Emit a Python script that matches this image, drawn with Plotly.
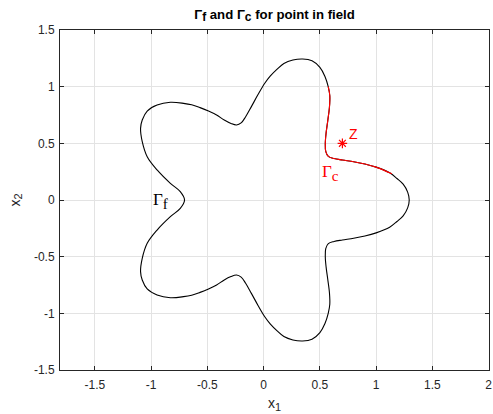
import plotly.graph_objects as go

# Boundary curve Gamma_f, counterclockwise from right tip
curve_x = [1.294, 1.28, 1.24, 1.185, 1.12, 1.0, 0.9, 0.8, 0.7, 0.626, 0.575, 0.552, 0.548, 0.555, 0.57,
           0.585, 0.588, 0.574, 0.545, 0.5, 0.43, 0.347, 0.26, 0.18, 0.12, 0.06, 0.01, -0.05, -0.109,
           -0.16, -0.2, -0.241, -0.29, -0.35, -0.418, -0.49, -0.565, -0.64, -0.712, -0.829, -0.947,
           -1.035, -1.079, -1.094, -1.079, -1.035, -0.947, -0.829, -0.741, -0.703,
           -0.741, -0.829, -0.947, -1.035, -1.079, -1.094, -1.079, -1.035, -0.947, -0.829, -0.712,
           -0.64, -0.565, -0.49, -0.418, -0.35, -0.29, -0.241, -0.2, -0.16, -0.109, -0.05, 0.01,
           0.06, 0.12, 0.18, 0.26, 0.347, 0.43, 0.5, 0.545, 0.574, 0.588, 0.585, 0.57, 0.555, 0.548,
           0.552, 0.575, 0.626, 0.7, 0.8, 0.9, 1.0, 1.12, 1.185, 1.24, 1.28, 1.294]
curve_y = [0.0, 0.07, 0.14, 0.19, 0.24, 0.29, 0.318, 0.338, 0.353, 0.366, 0.385, 0.43, 0.5, 0.59, 0.7,
           0.82, 0.92, 1.0, 1.09, 1.17, 1.228, 1.244, 1.235, 1.205, 1.155, 1.095, 1.03, 0.93, 0.824,
           0.735, 0.68, 0.662, 0.675, 0.705, 0.75, 0.785, 0.815, 0.84, 0.853, 0.862, 0.838,
           0.785, 0.706, 0.632, 0.515, 0.382, 0.265, 0.147, 0.074, 0.0,
           -0.074, -0.147, -0.265, -0.382, -0.515, -0.632, -0.706, -0.785, -0.838, -0.862, -0.853,
           -0.84, -0.815, -0.785, -0.75, -0.705, -0.675, -0.662, -0.68, -0.735, -0.824, -0.93, -1.03,
           -1.095, -1.155, -1.205, -1.235, -1.244, -1.228, -1.17, -1.09, -1.0, -0.92, -0.82, -0.7,
           -0.59, -0.5, -0.43, -0.385, -0.366, -0.353, -0.338, -0.318, -0.29, -0.24, -0.19, -0.14,
           -0.07, 0.0]

# Gamma_c portion (red)
gc_x = [0.574, 0.588, 0.585, 0.57, 0.555, 0.548, 0.552, 0.575, 0.626, 0.7, 0.8, 0.9, 1.0, 1.12, 1.14]
gc_y = [1.0, 0.92, 0.82, 0.7, 0.59, 0.5, 0.43, 0.385, 0.366, 0.353, 0.338, 0.318, 0.29, 0.24, 0.232]

# Field point z
z_x = [0.7]
z_y = [0.5]

x_ticks = [-1.5, -1, -0.5, 0, 0.5, 1, 1.5, 2]
x_tick_text = ["-1.5", "-1", "-0.5", "0", "0.5", "1", "1.5", "2"]
y_ticks = [-1.5, -1, -0.5, 0, 0.5, 1, 1.5]
y_tick_text = ["-1.5", "-1", "-0.5", "0", "0.5", "1", "1.5"]

AX = "#262626"
GRID = "#e3e3e3"
SANS = "Liberation Sans, Arial, sans-serif"
SERIF = "Liberation Serif, DejaVu Serif, serif"

fig = go.Figure()
fig.add_trace(go.Scatter(x=curve_x, y=curve_y, mode="lines",
                         line=dict(color="black", width=1.1, shape="spline", smoothing=1.0),
                         hoverinfo="skip", showlegend=False))
fig.add_trace(go.Scatter(x=gc_x, y=gc_y, mode="lines",
                         line=dict(color="#ff0000", width=1.1, shape="spline", smoothing=1.0),
                         hoverinfo="skip", showlegend=False))
fig.add_trace(go.Scatter(x=z_x, y=z_y, mode="markers",
                         marker=dict(symbol="asterisk-open", size=8, color="#ff0000",
                                     line=dict(color="#ff0000", width=1.2)),
                         hoverinfo="skip", showlegend=False))

fig.add_annotation(x=0.745, y=0.585, text="Z", showarrow=False, xanchor="left", yanchor="middle",
                   font=dict(family=SANS, size=14, color="#ff0000"))
fig.add_annotation(x=0.505, y=0.24, text="Γ<sub><span style='font-size:15px'>c</span></sub>",
                   showarrow=False, xanchor="left", yanchor="middle",
                   font=dict(family=SERIF, size=17, color="#ff0000"))
fig.add_annotation(x=-1.0, y=-0.01, text="Γ<sub><span style='font-size:15px'>f</span></sub>",
                   showarrow=False, xanchor="left", yanchor="middle",
                   font=dict(family=SERIF, size=17, color="black"))

axis_common = dict(ticks="inside", ticklen=4, tickwidth=1, tickcolor=AX,
                   showline=True, linecolor=AX, linewidth=1, mirror="ticks",
                   showgrid=True, gridcolor=GRID, gridwidth=1, zeroline=False,
                   ticklabeloverflow="allow",
                   tickfont=dict(family=SANS, size=12, color=AX))

fig.update_layout(
    width=493, height=414,
    margin=dict(l=60, r=1, t=30, b=44),
    paper_bgcolor="white", plot_bgcolor="white",
    title=dict(text="<b>Γ<sub><span style='font-size:12px'>f</span></sub> and "
                    "Γ<sub><span style='font-size:12px'>c</span></sub> for point in field</b>",
               x=0.5, xref="paper", xanchor="center", y=1 - 14 / 414, yref="container", yanchor="middle",
               font=dict(family=SANS, size=13.2, color="black")),
    xaxis=dict(range=[-1.81, 2.003], tickvals=x_ticks, ticktext=x_tick_text, ticklabelstandoff=4,
               title=dict(text="x<sub><span style='font-size:11px'>1</span></sub>",
                          font=dict(family=SANS, size=14, color=AX), standoff=6),
               **axis_common),
    yaxis=dict(range=[-1.5, 1.5], tickvals=y_ticks, ticktext=y_tick_text, ticklabelstandoff=2,
               title=dict(text="x<sub><span style='font-size:11px'>2</span></sub>",
                          font=dict(family=SANS, size=14, color=AX), standoff=10),
               **axis_common),
)

fig.write_html("out.html")
